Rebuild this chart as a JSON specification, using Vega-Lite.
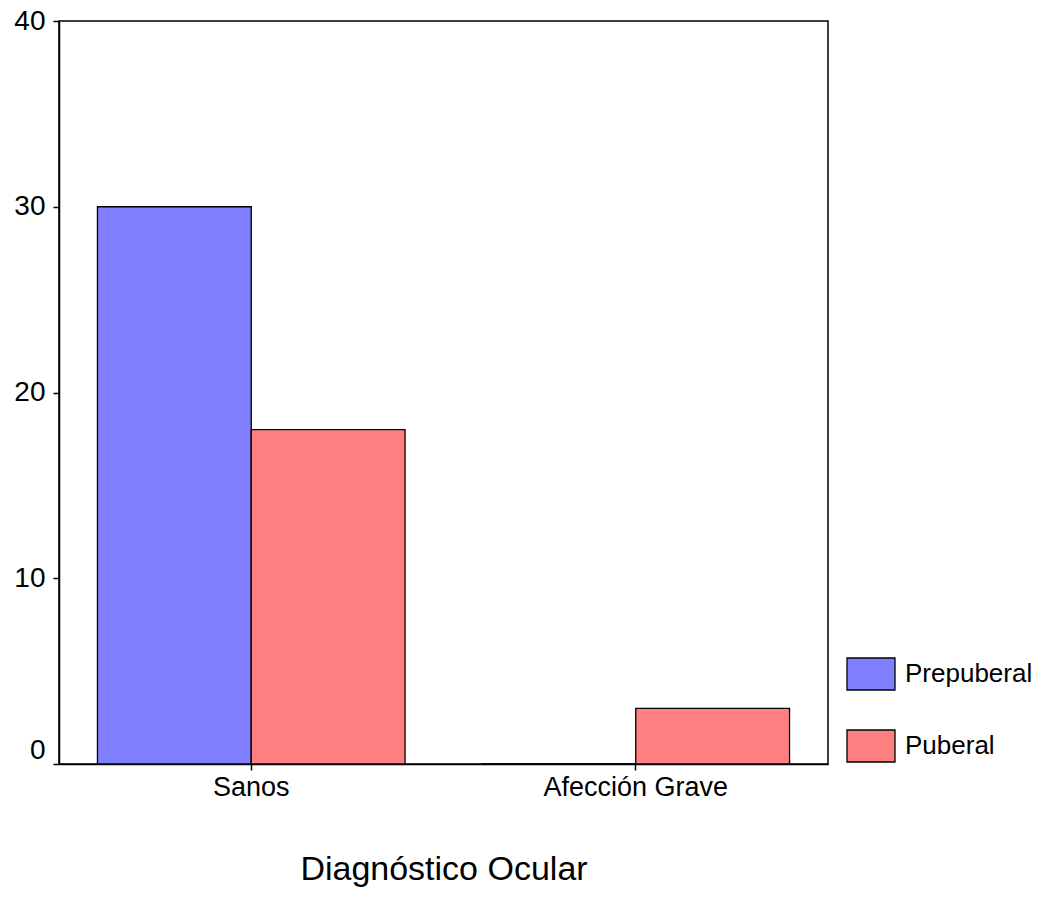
{
  "$schema": "https://vega.github.io/schema/vega-lite/v6.json",
  "width": 769,
  "height": 743,
  "autosize": "none",
  "padding": {"left": 59, "top": 21, "right": 217, "bottom": 133},
  "background": "white",
  "config": {
    "font": "Liberation Sans",
    "view": {"stroke": "black", "strokeWidth": 1.5}
  },
  "data": {
    "values": [
      {"diag": "Sanos", "grupo": "Prepuberal", "n": 30},
      {"diag": "Sanos", "grupo": "Puberal", "n": 18},
      {"diag": "Afección Grave", "grupo": "Prepuberal", "n": 0},
      {"diag": "Afección Grave", "grupo": "Puberal", "n": 3}
    ]
  },
  "mark": {"type": "bar", "stroke": "black", "strokeWidth": 1.3},
  "encoding": {
    "x": {
      "field": "diag",
      "type": "nominal",
      "sort": ["Sanos", "Afección Grave"],
      "scale": {"paddingInner": 0.2, "paddingOuter": 0.1},
      "axis": {
        "title": "Diagnóstico Ocular",
        "titleFontSize": 34,
        "titleFontWeight": "normal",
        "titleColor": "black",
        "titlePadding": 52,
        "labelFontSize": 27,
        "labelColor": "black",
        "labelAngle": 0,
        "labelPadding": 4,
        "labelLimit": 400,
        "tickColor": "black",
        "tickSize": 6,
        "tickWidth": 1.5,
        "domainColor": "black",
        "domainWidth": 1.5
      }
    },
    "xOffset": {"field": "grupo", "type": "nominal", "sort": ["Prepuberal", "Puberal"]},
    "y": {
      "field": "n",
      "type": "quantitative",
      "scale": {"domain": [0, 40]},
      "axis": {
        "title": null,
        "values": [0, 10, 20, 30, 40],
        "grid": false,
        "labelFontSize": 28,
        "labelColor": "black",
        "labelPadding": 8,
        "labelBaseline": {"condition": {"test": "datum.value === 0", "value": "bottom"}, "value": "middle"},
        "tickColor": "black",
        "tickSize": 6,
        "tickWidth": 1.5,
        "domainColor": "black",
        "domainWidth": 1.5
      }
    },
    "fill": {
      "field": "grupo",
      "type": "nominal",
      "sort": ["Prepuberal", "Puberal"],
      "scale": {"domain": ["Prepuberal", "Puberal"], "range": ["#8080FF", "#FF8080"]},
      "legend": {
        "title": null,
        "orient": "none",
        "legendX": 787,
        "legendY": 628,
        "padding": 0,
        "symbolType": "M-1,-0.667H1V0.667H-1Z",
        "symbolSize": 2304,
        "symbolStrokeColor": "black",
        "symbolStrokeWidth": 1.3,
        "symbolOpacity": 1,
        "labelFontSize": 26,
        "labelColor": "black",
        "labelOffset": 9,
        "labelLimit": 300,
        "rowPadding": 28
      }
    }
  }
}
